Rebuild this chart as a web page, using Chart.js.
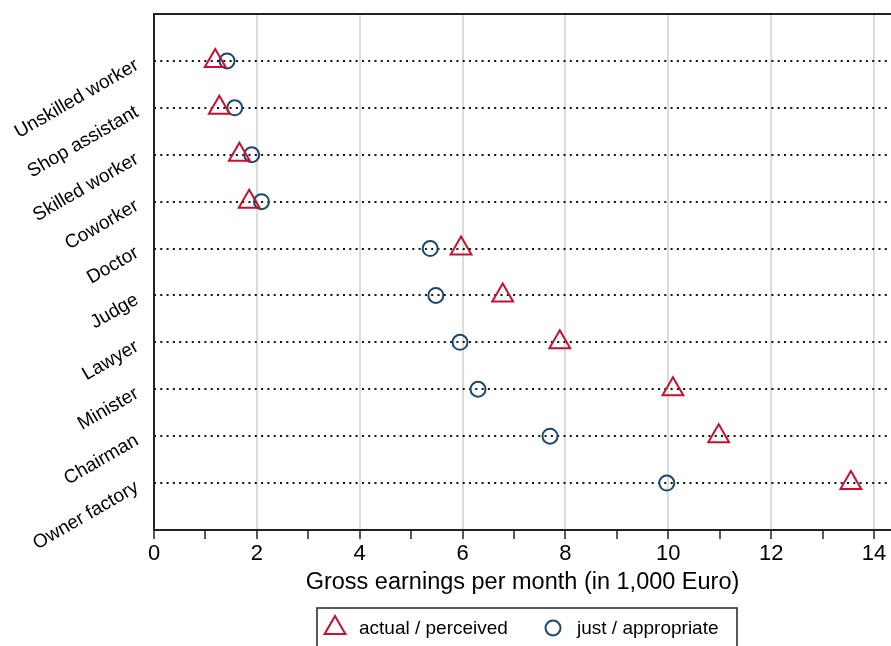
<!DOCTYPE html>
<html>
<head>
<meta charset="utf-8">
<script src="https://cdn.jsdelivr.net/npm/chart.js@4/dist/chart.umd.min.js"></script>
<style>
  html, body { margin: 0; padding: 0; background: #fff; }
  #wrap { width: 891px; height: 646px; position: relative; }
</style>
</head>
<body>
<div id="wrap"><canvas id="chart"></canvas></div>
<script>
// occupations, top to bottom
const categories = ['Unskilled worker', 'Shop assistant', 'Skilled worker', 'Coworker', 'Doctor',
  'Judge', 'Lawyer', 'Minister', 'Chairman', 'Owner factory'];
// gross earnings per month, in 1,000 Euro
const actualPerceived = [1.19, 1.27, 1.66, 1.85, 5.97, 6.78, 7.89, 10.09, 10.98, 13.55];
const justAppropriate = [1.42, 1.57, 1.90, 2.09, 5.37, 5.48, 5.95, 6.30, 7.70, 9.97];
const xTicks = [0, 2, 4, 6, 8, 10, 12, 14];

const RED = '#c8102e';
const NAVY = '#1a476f';
const FONT = "'Liberation Sans', Arial, sans-serif";

const toPoints = vals => vals.map((v, i) => ({ x: v, y: i + 1 }));

// no extra padding from labels, the frame is placed by hand
function noPad(scale) {
  scale.paddingTop = 0;
  scale.paddingBottom = 0;
  scale.paddingLeft = 0;
  scale.paddingRight = 0;
}

function drawMarker(ctx, ds, x, y) {
  ctx.save();
  ctx.strokeStyle = ds.borderColor;
  ctx.lineWidth = ds.pointBorderWidth;
  const r = ds.pointRadius;
  ctx.beginPath();
  if (ds.pointStyle === 'triangle') {
    for (let k = 0; k < 3; k++) {
      const a = k * 2 * Math.PI / 3;
      const px = x + Math.sin(a) * r, py = y - Math.cos(a) * r;
      if (k === 0) ctx.moveTo(px, py); else ctx.lineTo(px, py);
    }
    ctx.closePath();
  } else {
    ctx.arc(x, y, r, 0, Math.PI * 2);
  }
  ctx.stroke();
  ctx.restore();
}

// left axis line drawn solid (the y border carries the dot pattern)
const leftAxis = {
  id: 'leftAxis',
  afterDatasetsDraw(chart) {
    const { ctx, chartArea } = chart;
    ctx.save();
    ctx.strokeStyle = '#222';
    ctx.lineWidth = 2;
    ctx.beginPath();
    ctx.moveTo(chartArea.left, chartArea.top - 1);
    ctx.lineTo(chartArea.left, chartArea.bottom + 1);
    ctx.stroke();
    ctx.restore();
  }
};

// boxed legend under the axis title
const boxLegend = {
  id: 'boxLegend',
  afterDraw(chart) {
    const ctx = chart.ctx;
    const left = 317, top = 608, width = 420;
    ctx.save();
    ctx.strokeStyle = '#222';
    ctx.lineWidth = 1.5;
    ctx.strokeRect(left, top, width, 60);
    ctx.font = '19px ' + FONT;
    ctx.fillStyle = '#000';
    ctx.textBaseline = 'middle';
    const slots = [335, 553];
    chart.data.datasets.forEach((ds, i) => {
      drawMarker(ctx, ds, slots[i], 628);
      ctx.fillText(ds.label, slots[i] + 24, 629);
    });
    ctx.restore();
  }
};

new Chart(document.getElementById('chart'), {
  type: 'scatter',
  data: {
    datasets: [
      {
        label: 'actual / perceived',
        data: toPoints(actualPerceived),
        pointStyle: 'triangle',
        pointRadius: 12,
        pointHoverRadius: 12,
        pointBorderWidth: 2,
        borderColor: RED,
        backgroundColor: 'rgba(0,0,0,0)'
      },
      {
        label: 'just / appropriate',
        data: toPoints(justAppropriate),
        pointStyle: 'circle',
        pointRadius: 7.5,
        pointHoverRadius: 7.5,
        pointBorderWidth: 2,
        borderColor: NAVY,
        backgroundColor: 'rgba(0,0,0,0)'
      }
    ]
  },
  options: {
    responsive: true,
    maintainAspectRatio: false,
    animation: false,
    layout: { autoPadding: false, padding: { top: 14, right: 0, bottom: 0, left: 0 } },
    plugins: {
      legend: { display: false },
      tooltip: { enabled: false }
    },
    scales: {
      x: {
        type: 'linear',
        position: 'bottom',
        min: 0,
        max: 14.33,
        afterBuildTicks: scale => {
          const t = [];
          for (let v = 0; v <= 14; v++) t.push({ value: v });
          scale.ticks = t;
        },
        afterFit: scale => { scale.height = 116; noPad(scale); },
        grid: {
          color: ctx => (ctx.tick && ctx.tick.value > 0 && ctx.tick.value % 2 === 0) ? '#dcdcdc' : 'rgba(0,0,0,0)',
          lineWidth: 2,
          drawTicks: true,
          tickLength: 9,
          tickColor: '#222',
          tickWidth: 1.5
        },
        border: { display: true, color: '#222', width: 2 },
        ticks: {
          padding: 2,
          maxRotation: 0,
          autoSkip: false,
          color: '#000',
          font: { family: FONT, size: 22 },
          callback: v => xTicks.includes(v) ? String(v) : ''
        },
        title: {
          display: true,
          text: 'Gross earnings per month (in 1,000 Euro)',
          color: '#000',
          font: { family: FONT, size: 23.5 },
          padding: { top: 0, bottom: 49 }
        }
      },
      xTop: {
        type: 'linear',
        position: 'top',
        min: 0,
        max: 14.33,
        afterFit: scale => { scale.height = 0; noPad(scale); },
        grid: { display: false, drawTicks: false },
        ticks: { display: false },
        border: { display: true, color: '#222', width: 2 }
      },
      y: {
        type: 'linear',
        reverse: true,
        min: 0,
        max: 11,
        afterBuildTicks: scale => {
          scale.ticks = categories.map((_, i) => ({ value: i + 1 }));
        },
        afterFit: scale => { scale.width = 154; noPad(scale); },
        grid: {
          color: '#111',
          lineWidth: 2,
          drawTicks: false
        },
        border: { display: false, dash: [2, 4.3] },
        ticks: {
          padding: 17,
          labelOffset: 3,
          minRotation: 30,
          maxRotation: 30,
          autoSkip: false,
          color: '#000',
          font: { family: FONT, size: 19 },
          callback: v => categories[v - 1] || ''
        }
      }
    }
  },
  plugins: [leftAxis, boxLegend]
});
</script>
</body>
</html>
